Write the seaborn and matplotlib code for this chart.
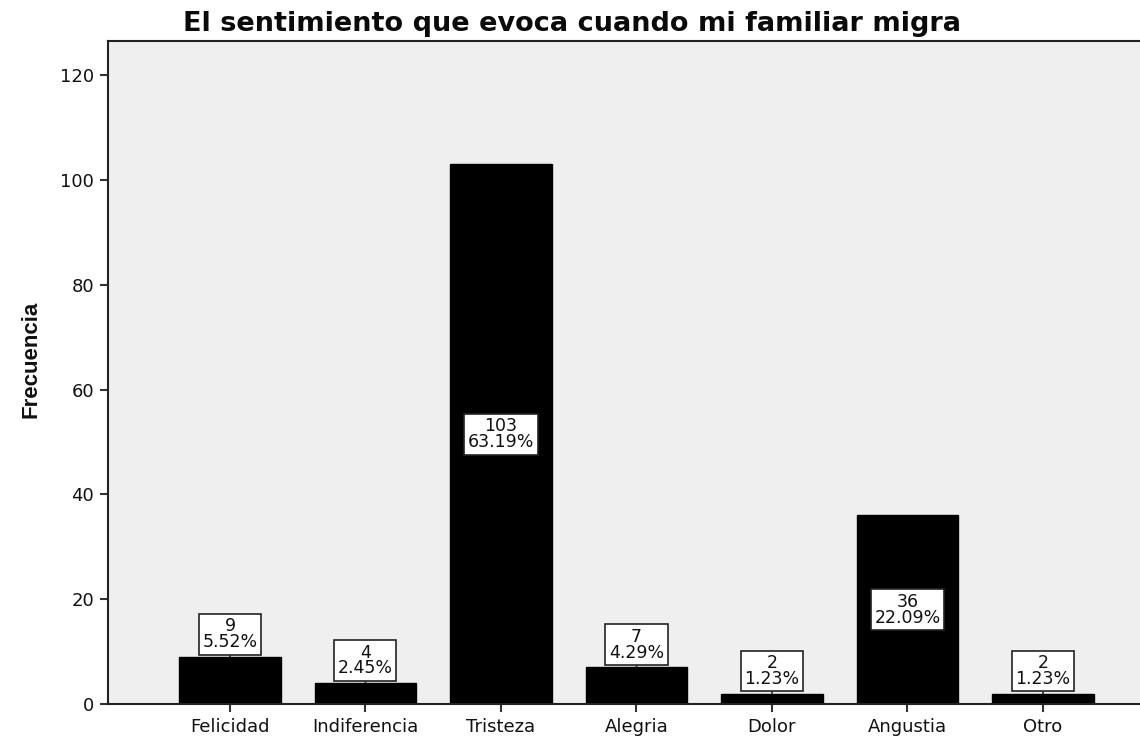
import matplotlib
matplotlib.use("Agg")
import matplotlib.pyplot as plt
import seaborn as sns
import pandas as pd

categories = ["Felicidad", "Indiferencia", "Tristeza", "Alegria", "Dolor", "Angustia", "Otro"]
counts = [9, 4, 103, 7, 2, 36, 2]
percents = ["5.52%", "2.45%", "63.19%", "4.29%", "1.23%", "22.09%", "1.23%"]
yticks = [0, 20, 40, 60, 80, 100, 120]
title = "El sentimiento que evoca cuando mi familiar migra"
ylabel = "Frecuencia"

sns.set_theme(style="white")
plt.rcParams['font.family'] = ['DejaVu Sans']

df = pd.DataFrame({"cat": categories, "n": counts})

fig = plt.figure(figsize=(11.4, 7.36), dpi=100)
ax = fig.add_axes([108/1140, 32/736, 1 - 108/1140 + 0.01, (704-41)/736])
ax.set_facecolor("#efefef")

sns.barplot(data=df, x="cat", y="n", color="black", saturation=1, width=0.75,
            edgecolor="black", ax=ax)

ax.set_xlim(-0.9, 6.8)
ax.set_ylim(0, 126.5)
ax.set_yticks(yticks)
ax.set_xlabel("")
ax.set_ylabel(ylabel, fontsize=16, fontweight="bold",
              family=["Liberation Sans", "DejaVu Sans"], color="#111111")
ax.yaxis.set_label_coords(-0.064, 0.52)
fig.text(0.502, 1 - 24/736, title, fontsize=19.5, fontweight="bold",
         ha="center", va="center", color="#0a0a0a")

for s in ["top", "left", "bottom"]:
    ax.spines[s].set_visible(True)
    ax.spines[s].set_color("#222222")
    ax.spines[s].set_linewidth(1.5)
ax.spines["right"].set_visible(False)

ax.tick_params(axis="both", which="both", direction="out", length=6, width=1.5,
               color="#333333", labelsize=13, labelcolor="#111111")
ax.tick_params(axis="x", bottom=True, pad=4)
ax.tick_params(axis="y", left=True, pad=4)

bbox = dict(boxstyle="square,pad=0.2", facecolor="white", edgecolor="#222222", linewidth=1.2)
for i, (c, p) in enumerate(zip(counts, percents)):
    label = f"{c}\n{p}"
    if c > 20:
        ax.text(i, c / 2, label, ha="center", va="center", fontsize=12.5,
                linespacing=0.85, bbox=bbox, color="#111111")
    else:
        ax.annotate(label, xy=(i, c), xytext=(0, 4), textcoords="offset points",
                    ha="center", va="bottom", fontsize=12.5, linespacing=0.85,
                    bbox=bbox, color="#111111",
                    arrowprops=dict(arrowstyle="-", color="#222222", lw=1.2,
                                    shrinkA=0, shrinkB=0))

fig.savefig("out.png", dpi=100)
